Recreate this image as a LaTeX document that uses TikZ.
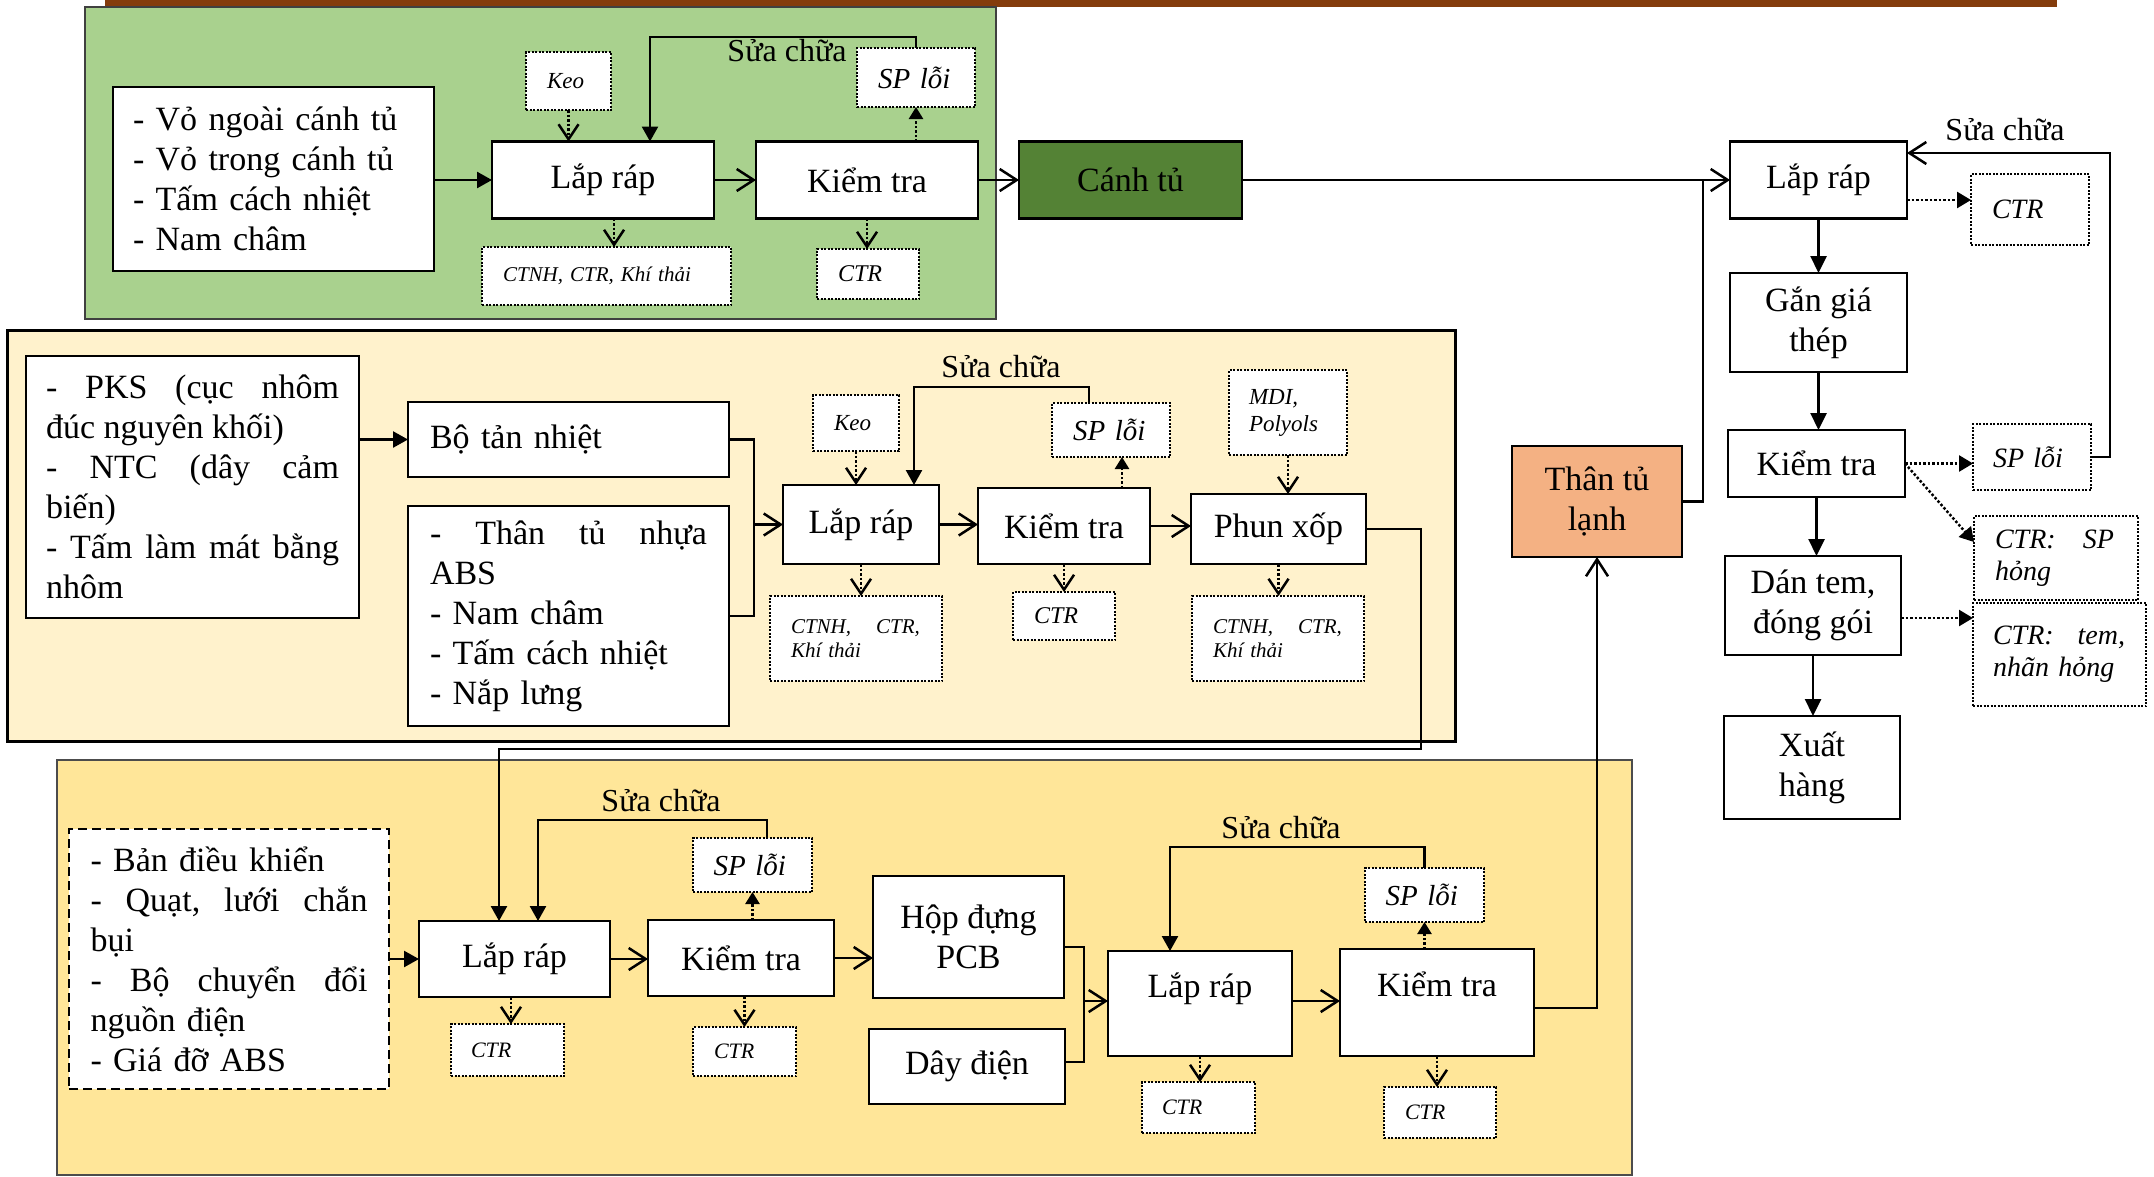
\documentclass[tikz,border=0pt]{standalone}
\usepackage{fontspec}
\setmainfont{Liberation Serif}
\usetikzlibrary{arrows.meta,calc}
\definecolor{gpanel}{RGB}{169,209,142}
\definecolor{cpanel}{RGB}{255,242,204}
\definecolor{ypanel}{RGB}{255,230,153}
\definecolor{dkgreen}{RGB}{84,130,53}
\definecolor{orangebox}{RGB}{244,177,131}
\definecolor{brownbar}{RGB}{132,60,12}
\newcommand\szmain{\fontsize{34}{40}\selectfont}
\newcommand\szlbl{\fontsize{32}{38}\selectfont}
\newcommand\szsp{\fontsize{29}{34}\selectfont\itshape}
\newcommand\szkeo{\fontsize{23}{27}\selectfont\itshape}
\newcommand\szsm{\fontsize{21}{24}\selectfont\itshape}
\newcommand\szctr{\fontsize{24}{28}\selectfont\itshape}
\newcommand\szctrb{\fontsize{22}{26}\selectfont\itshape}
\newcommand\szr{\fontsize{28}{32}\selectfont\itshape}
\newcommand\spreadln[2]{\leavevmode\hbox to #1{#2}}
\tikzset{
  box/.style={draw, line width=2.7pt, fill=white, inner sep=0pt, outer sep=0pt, align=center, font=\szmain},
  dashbox/.style={box, line width=2.5pt, dash pattern=on 9pt off 5pt},
  dbox/.style={draw, line width=2pt, dash pattern=on 2pt off 1.5pt, fill=white, inner sep=0pt, outer sep=0pt, align=left},
  conn/.style={line width=2.5pt},
  openarr/.style={conn, -{Straight Barb[length=17pt,width=22pt]}},
  fillarr/.style={conn, -{Triangle[length=15pt,width=16pt]}},
  fillarrR/.style={conn, -{Triangle[length=17pt,width=16pt]}},
  dotv/.style={line width=2.5pt, dash pattern=on 2.5pt off 2pt, -{Straight Barb[length=15pt,width=20pt]}},
  dotfill/.style={line width=2.5pt, dash pattern=on 2.5pt off 2pt, -{Triangle[length=12pt,width=14pt]}},
  dotfillR/.style={line width=2.5pt, dash pattern=on 2.5pt off 2pt, -{Triangle[length=14pt,width=16pt]}},
  lbl/.style={font=\szlbl, inner sep=0pt},
  panel/.style={line width=2pt}
}
\begin{document}
\begin{tikzpicture}[x=1pt,y=-1pt]
\useasboundingbox (0,0) rectangle (2154,1176);
% panels
\fill[brownbar] (105,0) rectangle (2057,7);
\draw[panel, draw=black!75, fill=gpanel] (85,7) rectangle (996,319);
\draw[panel, line width=3pt, draw=black, fill=cpanel] (7,330) rectangle (1455,741);
\draw[panel, draw=black!70, fill=ypanel] (57,760) rectangle (1632,1175);

% ---------- green section
\node[box, text width=281pt, minimum width=321pt, minimum height=184pt, align=left] (g_in) at (273.5,179) {- Vỏ ngoài cánh tủ\\- Vỏ trong cánh tủ\\- Tấm cách nhiệt\\- Nam châm};
\node[dbox, minimum width=85pt, minimum height=58pt, text width=43pt, font=\szkeo] (g_keo) at (568.5,81) {Keo};
\node[box, minimum width=222pt, minimum height=77pt] (g_lr) at (603,180) {Lắp ráp};
\node[box, minimum width=222pt, minimum height=77pt] (g_kt) at (867,180) {Kiểm tra};
\node[dbox, minimum width=118pt, minimum height=59pt, text width=76pt, font=\szsp] (g_sp) at (916,77.5) {SP lỗi};
\node[dbox, minimum width=249pt, minimum height=58pt, text width=207pt, font=\szsm] (g_ctnh) at (606.5,276) {CTNH, CTR, Khí thải};
\node[dbox, minimum width=102pt, minimum height=50pt, text width=60pt, font=\szctr] (g_ctr) at (868,274) {CTR};
\node[box, fill=dkgreen, minimum width=223pt, minimum height=77pt] (canh) at (1130.5,180) {Cánh tủ};
\node[lbl] (g_sc) at (787,51) {Sửa chữa};

% ---------- right column
\node[box, minimum width=177pt, minimum height=77pt] (r_lr) at (1818.5,180) {Lắp ráp};
\node[dbox, minimum width=118pt, minimum height=71pt, text width=76pt, font=\szr] (r_ctr) at (2030,209.5) {CTR};
\node[box, minimum width=177pt, minimum height=99pt] (r_gan) at (1818.5,322.5) {Gắn giá\\thép};
\node[box, minimum width=177pt, minimum height=67pt] (r_kt) at (1816.5,463.5) {Kiểm tra};
\node[dbox, minimum width=118pt, minimum height=66pt, text width=78pt, font=\szr] (r_sp) at (2032,457) {SP lỗi};
\node[dbox, minimum width=164pt, minimum height=84pt, text width=122pt, font=\szr] (r_ctrsp) at (2056,558) {\spreadln{119pt}{CTR:\hfill SP}\\hỏng};
\node[box, minimum width=176pt, minimum height=99pt] (r_dan) at (1813,605.5) {Dán tem,\\đóng gói};
\node[dbox, minimum width=173pt, minimum height=103pt, text width=133pt, font=\szr] (r_ctrtem) at (2059.5,654.5) {\spreadln{132pt}{CTR:\hfill tem,}\\nhãn hỏng};
\node[box, minimum width=176pt, minimum height=103pt] (r_xuat) at (1812,767.5) {Xuất\\hàng};
\node[box, fill=orangebox, minimum width=170pt, minimum height=111pt] (than) at (1597,501.5) {Thân tủ\\lạnh};
\node[lbl] (r_sc) at (2005,130) {Sửa chữa};

% ---------- cream section
\node[box, minimum width=333pt, minimum height=262pt, align=left] (c_pks) at (192.5,487) {\spreadln{293pt}{-\hfill PKS\hfill (cục\hfill nhôm}\\đúc nguyên khối)\\\spreadln{293pt}{-\hfill NTC\hfill (dây\hfill cảm}\\biến)\\\spreadln{293pt}{-\hfill Tấm\hfill làm\hfill mát\hfill bằng}\\nhôm};
\node[box, text width=277pt, minimum width=321pt, minimum height=75pt, align=left] (c_bo) at (568.5,439.5) {Bộ tản nhiệt};
\node[box, text width=277pt, minimum width=321pt, minimum height=220pt, align=left] (c_than) at (568.5,616) {\spreadln{277pt}{-\hfill Thân\hfill tủ\hfill nhựa}\\ABS\\- Nam châm\\- Tấm cách nhiệt\\- Nắp lưng};
\node[box, minimum width=156pt, minimum height=79pt] (c_lr) at (861,524.5) {Lắp ráp};
\node[box, minimum width=172pt, minimum height=76pt] (c_kt) at (1064,526) {Kiểm tra};
\node[box, minimum width=175pt, minimum height=70pt] (c_phun) at (1278.5,529) {Phun xốp};
\node[dbox, minimum width=86pt, minimum height=56pt, text width=44pt, font=\szkeo] (c_keo) at (856,423) {Keo};
\node[dbox, minimum width=118pt, minimum height=54pt, text width=76pt, font=\szsp] (c_sp) at (1111,430) {SP lỗi};
\node[dbox, minimum width=118pt, minimum height=85pt, text width=78pt, font=\szkeo] (c_mdi) at (1288,412.5) {MDI,\\Polyols};
\node[dbox, minimum width=172pt, minimum height=85pt, text width=130pt, font=\szsm] (c_ctnh1) at (856,638.5) {\spreadln{129pt}{CTNH,\hfill CTR,}\\Khí thải};
\node[dbox, minimum width=102pt, minimum height=48pt, text width=60pt, font=\szctr] (c_ctr) at (1064,616) {CTR};
\node[dbox, minimum width=172pt, minimum height=85pt, text width=130pt, font=\szsm] (c_ctnh2) at (1278,638.5) {\spreadln{129pt}{CTNH,\hfill CTR,}\\Khí thải};
\node[lbl] (c_sc) at (1001,367) {Sửa chữa};

% ---------- yellow section
\node[dashbox, minimum width=320pt, minimum height=260pt, text width=277pt, align=left] (b_in) at (229,959) {- Bản điều khiển\\\spreadln{277pt}{-\hfill Quạt,\hfill lưới\hfill chắn}\\bụi\\\spreadln{277pt}{-\hfill Bộ\hfill chuyển\hfill đổi}\\nguồn điện\\- Giá đỡ ABS};
\node[box, minimum width=191pt, minimum height=76pt] (b_lr) at (514.5,959) {Lắp ráp};
\node[box, minimum width=186pt, minimum height=76pt] (b_kt) at (741,958) {Kiểm tra};
\node[dbox, minimum width=119pt, minimum height=54pt, text width=78pt, font=\szsp] (b_sp) at (752.5,865) {SP lỗi};
\node[dbox, minimum width=113pt, minimum height=52pt, text width=73pt, font=\szctrb] (b_ctr1) at (507.5,1050) {CTR};
\node[dbox, minimum width=103pt, minimum height=49pt, text width=61pt, font=\szctrb] (b_ctr2) at (744.5,1051.5) {CTR};
\node[box, minimum width=191pt, minimum height=122pt] (b_hop) at (968.5,937) {Hộp đựng\\PCB};
\node[box, minimum width=196pt, minimum height=75pt] (b_day) at (967,1066.5) {Dây điện};
\node[box, minimum width=184pt, minimum height=105pt, text height=24pt, text depth=37pt] (d_lr) at (1200,1003.5) {Lắp ráp};
\node[box, minimum width=194pt, minimum height=107pt, text height=24pt, text depth=37pt] (d_kt) at (1437,1002.5) {Kiểm tra};
\node[dbox, minimum width=119pt, minimum height=54pt, text width=78pt, font=\szsp] (d_sp) at (1424.5,895) {SP lỗi};
\node[dbox, minimum width=113pt, minimum height=51pt, text width=73pt, font=\szctrb] (d_ctr1) at (1198.5,1107.5) {CTR};
\node[dbox, minimum width=112pt, minimum height=51pt, text width=70pt, font=\szctrb] (d_ctr2) at (1440,1112.5) {CTR};
\node[lbl] (b_sc) at (661,801) {Sửa chữa};
\node[lbl] (d_sc) at (1281,828) {Sửa chữa};

% ---------- connectors: green
\draw[fillarr] (g_in.east |- g_lr.west) -- (g_lr.west);
\draw[openarr] (g_lr) -- (g_kt);
\draw[openarr] (g_kt) -- (canh);
\draw[dotv] (g_keo.south) -- (g_keo.south |- g_lr.north);
\coordinate (g_a1) at (614,0);
\draw[dotv] (g_lr.south -| g_a1) -- (g_ctnh.north -| g_a1);
\draw[dotv] (g_kt.south) -- (g_kt.south |- g_ctr.north);
\draw[dotfill] (g_kt.north -| g_sp.south) -- (g_sp.south);
\coordinate (g_rep) at (650,37);
\draw[fillarr] (g_sp.north) |- (g_rep) -- (g_rep |- g_lr.north);

% ---------- connectors: right column
\draw[openarr] (canh) -- (r_lr);
\coordinate (r_j) at (1703,180);
\draw[conn] (than.east) -| (r_j);
\draw[fillarrR] (r_lr.south) -- (r_lr.south |- r_gan.north);
\draw[fillarrR] (r_gan.south) -- (r_gan.south |- r_kt.north);
\draw[fillarrR] (r_kt.south) -- (r_kt.south |- r_dan.north);
\draw[fillarrR] (r_dan.south) -- (r_dan.south |- r_xuat.north);
\coordinate (r_y1) at (0,200);
\draw[dotfillR] (r_lr.east |- r_y1) -- (r_ctr.west |- r_y1);
\draw[dotfillR] (r_kt.east) -- (r_sp.west |- r_kt.east);
\coordinate (r_y2) at (0,542);
\draw[dotfillR] (r_kt.east) -- (r_ctrsp.west |- r_y2);
\coordinate (r_y3) at (0,618);
\draw[dotfillR] (r_dan.east |- r_y3) -- (r_ctrtem.west |- r_y3);
\coordinate (r_rep) at (2110,153);
\draw[openarr] (r_sp.east) -| (r_rep) -- (r_rep -| r_lr.east);

% ---------- connectors: cream
\draw[fillarr] (c_pks.east |- c_bo.west) -- (c_bo.west);
\coordinate (c_b) at (754,524.5);
\draw[conn] (c_bo.east) -| (c_b);
\draw[conn] (c_than.east) -| (c_b);
\draw[openarr] (c_b) -- (c_lr.west);
\draw[openarr] (c_lr.east) -- (c_kt.west |- c_lr.east);
\draw[openarr] (c_kt.east) -- (c_phun.west |- c_kt.east);
\draw[dotv] (c_keo.south) -- (c_keo.south |- c_lr.north);
\draw[dotv] (c_lr.south) -- (c_lr.south |- c_ctnh1.north);
\draw[dotv] (c_kt.south) -- (c_kt.south |- c_ctr.north);
\draw[dotv] (c_mdi.south) -- (c_mdi.south |- c_phun.north);
\draw[dotv] (c_phun.south) -- (c_phun.south |- c_ctnh2.north);
\coordinate (c_a1) at (1122,0);
\draw[dotfill] (c_kt.north -| c_a1) -- (c_sp.south -| c_a1);
\coordinate (c_rep) at (914,387);
\coordinate (c_a2) at (1089,0);
\draw[fillarr] (c_sp.north -| c_a2) |- (c_rep) -- (c_rep |- c_lr.north);
\coordinate (p_1) at (1421,749);
\coordinate (p_2) at (499,749);
\draw[fillarr] (c_phun.east) -| (p_1) -- (p_2) -- (p_2 |- b_lr.north);

% ---------- connectors: yellow
\draw[fillarr] (b_in.east |- b_lr.west) -- (b_lr.west);
\draw[openarr] (b_lr.east) -- (b_kt.west |- b_lr.east);
\draw[openarr] (b_kt.east) -- (b_hop.west |- b_kt.east);
\draw[dotfill] (b_kt.north -| b_sp.south) -- (b_sp.south);
\coordinate (b_rep) at (538,820);
\coordinate (b_a1) at (767,0);
\draw[fillarr] (b_sp.north -| b_a1) |- (b_rep) -- (b_rep |- b_lr.north);
\coordinate (b_a2) at (511,0);
\draw[dotv] (b_lr.south -| b_a2) -- (b_ctr1.north -| b_a2);
\draw[dotv] (b_kt.south -| b_ctr2.north) -- (b_ctr2.north);
\coordinate (b_b) at (1084,1001);
\draw[conn] ([yshift=-10pt]b_hop.east) -| (b_b);
\draw[conn] ([yshift=4.5pt]b_day.east) -| (b_b);
\draw[openarr] (b_b) -- (b_b -| d_lr.west);
\draw[openarr] (d_lr.east |- b_b) -- (d_kt.west |- b_b);
\draw[dotfill] (d_kt.north -| d_sp.south) -- (d_sp.south);
\coordinate (d_rep) at (1170,847);
\draw[fillarr] (d_sp.north) |- (d_rep) -- (d_rep |- d_lr.north);
\draw[dotv] (d_lr.south) -- (d_lr.south |- d_ctr1.north);
\draw[dotv] (d_kt.south) -- (d_kt.south |- d_ctr2.north);
\draw[openarr] ([yshift=-5.5pt]d_kt.east) -| (than.south);
\end{tikzpicture}
\end{document}
